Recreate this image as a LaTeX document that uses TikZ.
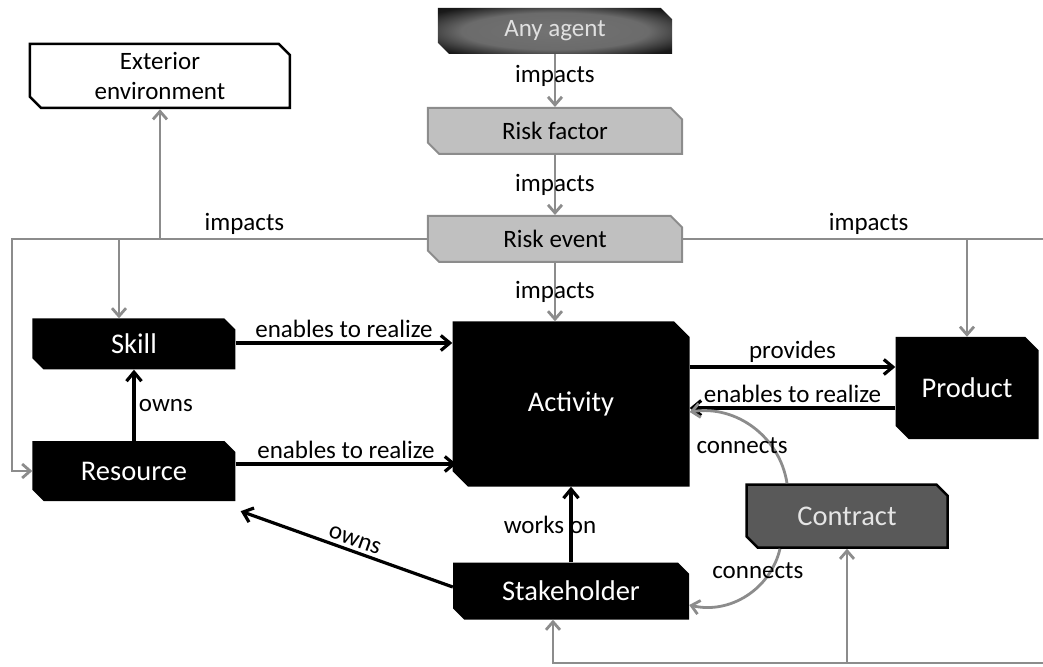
\documentclass[tikz,border=0pt]{standalone}
\usepackage{fontspec}
\setmainfont{Carlito}
\usetikzlibrary{shapes.misc,arrows.meta,positioning}
\definecolor{linegray}{HTML}{8C8C8C}
\definecolor{riskgray}{HTML}{C0C0C0}
\definecolor{contractgray}{HTML}{595959}
\newcommand{\boxfont}{\fontsize{28.5}{34}\selectfont}
\newcommand{\edgefont}{\fontsize{25}{30}\selectfont}
\pgfdeclareradialshading{agentglow}{\pgfpoint{0bp}{0bp}}{color(0bp)=(black!55); color(20bp)=(black!58); color(32bp)=(black!90); color(50bp)=(black)}
\tikzstyle{gline} = [draw=linegray, line width=2.8pt, -{Straight Barb[length=8pt,width=14pt]}]
\tikzstyle{bline} = [draw=black, line width=3.2pt, -{Straight Barb[length=9pt,width=15pt]}]
\tikzstyle{lbl} = [font=\edgefont, text=black]
\tikzstyle{chamf} = [chamfered rectangle, chamfered rectangle corners={north east,south west}, chamfered rectangle xsep=8pt, inner sep=0pt]
\tikzstyle{blackbox} = [chamf, fill=black, text=white, font=\boxfont]
\tikzstyle{riskbox} = [chamf, draw=linegray, line width=2pt, fill=riskgray, font=\edgefont, minimum width=254pt, minimum height=46pt]
\tikzstyle{agentbox} = [chamf, shading=agentglow, text=black!12, font=\edgefont, minimum width=234pt, minimum height=46pt]
\tikzstyle{envbox} = [chamf, draw=black, line width=2.5pt, fill=white, font=\edgefont, align=center, minimum width=260pt, minimum height=64pt]
\tikzstyle{contractbox} = [chamf, draw=black, line width=2.5pt, fill=contractgray, text=black!10, font=\boxfont, minimum width=201pt, minimum height=63pt]

\begin{document}
\begin{tikzpicture}[x=1pt, y=1pt]
		\useasboundingbox (-571,-262) rectangle (472,404);
		
		\node [blackbox, minimum width=237pt, minimum height=165pt, chamfered rectangle xsep=27pt] (activity) {Activity};
		\node [blackbox, right of=activity, node distance=396pt, yshift=16pt, minimum width=143pt, minimum height=102pt, chamfered rectangle xsep=17pt] (product) {Product};
		\node [blackbox, below of=activity, node distance=187pt, minimum width=236pt, minimum height=57pt] (stakeholder) {Stakeholder};
		\node [contractbox, right of=stakeholder, node distance=276pt, yshift=75pt] (contract) {Contract};
		
		\node [riskbox, above of=activity, node distance=165pt, xshift=-16pt] (event) {Risk event};
		\node [riskbox, above of=event, node distance=108pt] (factor) {Risk factor};
		\node [agentbox, above of=factor, node distance=100pt] (agent) {Any agent};
		
		\node [blackbox, left of=activity, node distance=437pt, yshift=60pt, minimum width=203pt, minimum height=51pt] (skill) {Skill};
		\node [blackbox, below of=skill, node distance=127pt, minimum width=203pt, minimum height=60pt] (resource) {Resource};
		\node [envbox, above of=skill, node distance=268pt, xshift=26pt] (extenv) {Exterior\\environment};
		
		% corners of the grey impact lines
		\coordinate [left of=resource, node distance=122pt] (lcorner);
		\coordinate [right of=contract, node distance=200pt, yshift=-147pt] (rcorner);
		\coordinate (skilltop) at ([xshift=-15pt]skill.north);
		\coordinate (sbot) at ([xshift=-18pt]stakeholder.south);
		
		% risk chain
		\path [gline] (agent.south) -- node [lbl, yshift=5pt] {impacts} (agent.south |- factor.north);
		\path [gline] (factor.south) -- node [lbl] {impacts} (event.north);
		\path [gline] (event.south) -- node [lbl] {impacts} (event.south |- activity.north);
		\path [gline] (event.west) -| node [lbl, pos=0.22, above] {impacts} (lcorner) -- (resource.west);
		\path [gline] (event.west -| extenv.south) -- (extenv.south);
		\path [gline] (event.west -| skilltop) -- (skilltop);
		\path [gline] (event.east) -| node [lbl, pos=0.255, above] {impacts} (rcorner) -| (sbot);
		\path [gline] (event.east -| product.north) -- (product.north);
		\path [gline] (rcorner -| contract.south) -- (contract.south);
		
		% skill and resource
		\coordinate (skill_out) at ([yshift=1pt]skill.east);
		\coordinate (res_out) at ([yshift=7pt]resource.east);
		\path [bline] (skill_out) -- node [lbl, above] {enables to realize} (skill_out -| activity.west);
		\path [bline] (res_out) -- node [lbl, above] {enables to realize} ([xshift=4pt]res_out -| activity.west);
		\path [bline] (resource.north) -- node [lbl, right] {owns} (skill.south);
		
		% activity and product
		\coordinate (act_out) at ([yshift=37pt]activity.east);
		\coordinate (prod_out) at ([yshift=-20pt]product.west);
		\path [bline] (act_out) -- node [lbl, above] {provides} (act_out -| product.west);
		\path [bline] (prod_out) -- node [lbl, above] {enables to realize} (prod_out -| activity.east);
		
		% stakeholder
		\path [bline] (stakeholder.north) -- node [lbl, xshift=-21pt] {works on} (activity.south);
		\path [bline, {Straight Barb[length=9pt,width=15pt]}-] ([xshift=5pt, yshift=-10pt]resource.south east) -- node [lbl, sloped, above, pos=0.52] {owns} ([yshift=4pt]stakeholder.west);
		
		% contract
		\draw [gline] ([xshift=-60pt]contract.north) to [bend right=45] node [lbl, pos=0.4, xshift=-21pt, yshift=-10pt] {connects} ([yshift=-8pt]activity.east);
		\draw [gline] ([xshift=-67pt]contract.south) to [bend left=45] node [lbl, pos=0.3, xshift=-6pt, yshift=10pt] {connects} ([yshift=-14pt]stakeholder.east);
\end{tikzpicture}
\end{document}
